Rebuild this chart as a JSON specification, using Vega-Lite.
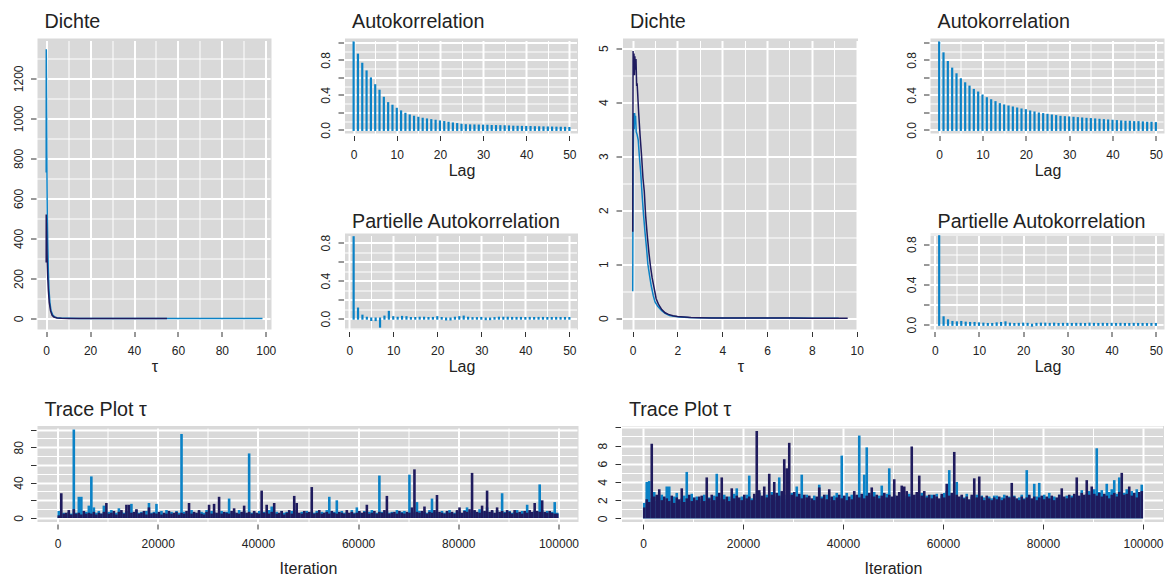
{
"$schema": "https://vega.github.io/schema/vega-lite/v6.json",
"background": "white",
"padding": {"left": 11.5, "top": 11.5, "right": 8, "bottom": 2},
"config": {
 "view": {"fill": "#D9D9D9", "stroke": null},
 "font": "Liberation Sans",
 "axis": {"domain": false, "gridColor": "#FFFFFF", "tickColor": "#333333", "tickWidth": 1, "labelColor": "#222222", "labelFontSize": 12, "labelFont": "Liberation Sans", "labelOverlap": false, "labelFlush": false, "titleFont": "Liberation Sans", "titleFontSize": 16, "titleFontWeight": "normal", "titleColor": "#222222"},
 "axisX": {"offset": 2, "tickSize": 5, "labelPadding": 9, "titlePadding": 2},
 "axisY": {"offset": 1.5, "tickSize": 5.5, "labelAngle": -90, "labelAlign": "center", "labelBaseline": "alphabetic", "labelPadding": 8.5},
 "title": {"anchor": "start", "frame": "group", "fontSize": 19.7, "fontWeight": "normal", "font": "Liberation Sans", "color": "#222222", "dx": 7, "offset": 6.5, "baseline": "alphabetic"}
},
"datasets": {
 "dens1": [
  {"tau":0.01,"d":730,"chain":"1"},{"tau":0.05,"d":1345,"chain":"1"},{"tau":0.1,"d":1250,"chain":"1"},{"tau":0.2,"d":1050,"chain":"1"},{"tau":0.3,"d":820,"chain":"1"},{"tau":0.4,"d":650,"chain":"1"},{"tau":0.5,"d":520,"chain":"1"},{"tau":0.7,"d":380,"chain":"1"},{"tau":1.0,"d":230,"chain":"1"},{"tau":1.3,"d":140,"chain":"1"},{"tau":1.7,"d":80,"chain":"1"},{"tau":2.2,"d":40,"chain":"1"},{"tau":3,"d":17,"chain":"1"},{"tau":4,"d":7,"chain":"1"},{"tau":5,"d":3.5,"chain":"1"},{"tau":7,"d":1.5,"chain":"1"},{"tau":10,"d":0.7,"chain":"1"},{"tau":15,"d":0.3,"chain":"1"},{"tau":20,"d":0.15,"chain":"1"},{"tau":30,"d":0.06,"chain":"1"},{"tau":40,"d":0.03,"chain":"1"},{"tau":50,"d":0.015,"chain":"1"},{"tau":60,"d":0.01,"chain":"1"},{"tau":70,"d":0.006,"chain":"1"},{"tau":80,"d":0.004,"chain":"1"},{"tau":90,"d":0.003,"chain":"1"},{"tau":98.5,"d":0.002,"chain":"1"},
  {"tau":0.01,"d":280,"chain":"2"},{"tau":0.03,"d":520,"chain":"2"},{"tau":0.05,"d":300,"chain":"2"},{"tau":0.07,"d":500,"chain":"2"},{"tau":0.09,"d":330,"chain":"2"},{"tau":0.11,"d":480,"chain":"2"},{"tau":0.2,"d":440,"chain":"2"},{"tau":0.35,"d":350,"chain":"2"},{"tau":0.5,"d":280,"chain":"2"},{"tau":0.7,"d":210,"chain":"2"},{"tau":1.0,"d":140,"chain":"2"},{"tau":1.4,"d":80,"chain":"2"},{"tau":2,"d":38,"chain":"2"},{"tau":2.7,"d":16,"chain":"2"},{"tau":3.5,"d":7,"chain":"2"},{"tau":5,"d":2.5,"chain":"2"},{"tau":7,"d":1,"chain":"2"},{"tau":10,"d":0.4,"chain":"2"},{"tau":15,"d":0.15,"chain":"2"},{"tau":20,"d":0.07,"chain":"2"},{"tau":30,"d":0.03,"chain":"2"},{"tau":40,"d":0.015,"chain":"2"},{"tau":55,"d":0.008,"chain":"2"}
 ],
 "dens2": [
  {"tau":0.005,"d":0.5,"chain":"1"},{"tau":0.02,"d":2.8,"chain":"1"},{"tau":0.05,"d":3.8,"chain":"1"},{"tau":0.07,"d":3.5,"chain":"1"},{"tau":0.09,"d":3.8,"chain":"1"},{"tau":0.11,"d":3.6,"chain":"1"},{"tau":0.13,"d":3.75,"chain":"1"},{"tau":0.16,"d":3.45,"chain":"1"},{"tau":0.2,"d":3.4,"chain":"1"},{"tau":0.25,"d":3.3,"chain":"1"},{"tau":0.3,"d":3.0,"chain":"1"},{"tau":0.36,"d":2.7,"chain":"1"},{"tau":0.42,"d":2.3,"chain":"1"},{"tau":0.48,"d":1.95,"chain":"1"},{"tau":0.55,"d":1.6,"chain":"1"},{"tau":0.62,"d":1.3,"chain":"1"},{"tau":0.68,"d":1.0,"chain":"1"},{"tau":0.76,"d":0.78,"chain":"1"},{"tau":0.83,"d":0.6,"chain":"1"},{"tau":0.92,"d":0.42,"chain":"1"},{"tau":1.0,"d":0.3,"chain":"1"},{"tau":1.12,"d":0.22,"chain":"1"},{"tau":1.3,"d":0.14,"chain":"1"},{"tau":1.45,"d":0.09,"chain":"1"},{"tau":1.65,"d":0.05,"chain":"1"},{"tau":1.85,"d":0.035,"chain":"1"},{"tau":2.1,"d":0.022,"chain":"1"},{"tau":2.5,"d":0.013,"chain":"1"},{"tau":3,"d":0.007,"chain":"1"},{"tau":4,"d":0.003,"chain":"1"},{"tau":5,"d":0.002,"chain":"1"},{"tau":6,"d":0.001,"chain":"1"},{"tau":7,"d":0.0008,"chain":"1"},{"tau":8,"d":0.0005,"chain":"1"},{"tau":9.2,"d":0.0003,"chain":"1"},
  {"tau":0.005,"d":1.6,"chain":"2"},{"tau":0.02,"d":4.95,"chain":"2"},{"tau":0.04,"d":4.6,"chain":"2"},{"tau":0.06,"d":4.9,"chain":"2"},{"tau":0.08,"d":4.5,"chain":"2"},{"tau":0.1,"d":4.85,"chain":"2"},{"tau":0.12,"d":4.6,"chain":"2"},{"tau":0.15,"d":4.8,"chain":"2"},{"tau":0.18,"d":4.3,"chain":"2"},{"tau":0.2,"d":4.35,"chain":"2"},{"tau":0.22,"d":4.2,"chain":"2"},{"tau":0.27,"d":3.8,"chain":"2"},{"tau":0.33,"d":3.4,"chain":"2"},{"tau":0.4,"d":3.0,"chain":"2"},{"tau":0.46,"d":2.6,"chain":"2"},{"tau":0.52,"d":2.35,"chain":"2"},{"tau":0.58,"d":1.9,"chain":"2"},{"tau":0.65,"d":1.55,"chain":"2"},{"tau":0.73,"d":1.2,"chain":"2"},{"tau":0.8,"d":0.95,"chain":"2"},{"tau":0.87,"d":0.75,"chain":"2"},{"tau":0.95,"d":0.58,"chain":"2"},{"tau":1.05,"d":0.36,"chain":"2"},{"tau":1.15,"d":0.26,"chain":"2"},{"tau":1.3,"d":0.16,"chain":"2"},{"tau":1.45,"d":0.1,"chain":"2"},{"tau":1.6,"d":0.07,"chain":"2"},{"tau":1.8,"d":0.045,"chain":"2"},{"tau":2.0,"d":0.03,"chain":"2"},{"tau":2.3,"d":0.02,"chain":"2"},{"tau":2.6,"d":0.012,"chain":"2"},{"tau":3,"d":0.007,"chain":"2"},{"tau":3.5,"d":0.004,"chain":"2"},{"tau":4,"d":0.003,"chain":"2"},{"tau":5,"d":0.002,"chain":"2"},{"tau":6,"d":0.001,"chain":"2"},{"tau":7,"d":0.001,"chain":"2"},{"tau":8,"d":0.0005,"chain":"2"},{"tau":9.6,"d":0.0003,"chain":"2"}
 ],
 "acf1": [
  {"lag":0,"r":1.0},{"lag":1,"r":0.86},{"lag":2,"r":0.756},{"lag":3,"r":0.668},{"lag":4,"r":0.588},{"lag":5,"r":0.51},{"lag":6,"r":0.447},{"lag":7,"r":0.366},{"lag":8,"r":0.305},{"lag":9,"r":0.275},{"lag":10,"r":0.24},{"lag":11,"r":0.21},{"lag":12,"r":0.183},{"lag":13,"r":0.164},{"lag":14,"r":0.149},{"lag":15,"r":0.137},{"lag":16,"r":0.126},{"lag":17,"r":0.118},{"lag":18,"r":0.11},{"lag":19,"r":0.103},{"lag":20,"r":0.095},{"lag":21,"r":0.088},{"lag":22,"r":0.08},{"lag":23,"r":0.072},{"lag":24,"r":0.065},{"lag":25,"r":0.057},{"lag":26,"r":0.052},{"lag":27,"r":0.05},{"lag":28,"r":0.049},{"lag":29,"r":0.048},{"lag":30,"r":0.047},{"lag":31,"r":0.046},{"lag":32,"r":0.043},{"lag":33,"r":0.042},{"lag":34,"r":0.041},{"lag":35,"r":0.04},{"lag":36,"r":0.038},{"lag":37,"r":0.035},{"lag":38,"r":0.034},{"lag":39,"r":0.033},{"lag":40,"r":0.032},{"lag":41,"r":0.031},{"lag":42,"r":0.029},{"lag":43,"r":0.028},{"lag":44,"r":0.027},{"lag":45,"r":0.026},{"lag":46,"r":0.025},{"lag":47,"r":0.024},{"lag":48,"r":0.023},{"lag":49,"r":0.022},{"lag":50,"r":0.02}
 ],
 "pacf1": [
  {"lag":1,"r":0.857},{"lag":2,"r":0.105},{"lag":3,"r":0.03},{"lag":4,"r":0.008},{"lag":5,"r":-0.014},{"lag":6,"r":-0.015},{"lag":7,"r":-0.084},{"lag":8,"r":0.02},{"lag":9,"r":0.07},{"lag":10,"r":0.014},{"lag":11,"r":0.008},{"lag":12,"r":0.017},{"lag":13,"r":0.014},{"lag":14,"r":0.005},{"lag":15,"r":0.005},{"lag":16,"r":0.008},{"lag":17,"r":0.008},{"lag":18,"r":0.005},{"lag":19,"r":0.006},{"lag":20,"r":0.014},{"lag":21,"r":0.005},{"lag":22,"r":-0.008},{"lag":23,"r":-0.008},{"lag":24,"r":0.008},{"lag":25,"r":0.014},{"lag":26,"r":0.02},{"lag":27,"r":0.008},{"lag":28,"r":0.004},{"lag":29,"r":0.004},{"lag":30,"r":0.006},{"lag":31,"r":-0.005},{"lag":32,"r":-0.005},{"lag":33,"r":0.004},{"lag":34,"r":0.008},{"lag":35,"r":0.008},{"lag":36,"r":0.008},{"lag":37,"r":0.006},{"lag":38,"r":0.006},{"lag":39,"r":0.006},{"lag":40,"r":0.005},{"lag":41,"r":0.006},{"lag":42,"r":0.005},{"lag":43,"r":0.006},{"lag":44,"r":0.006},{"lag":45,"r":0.005},{"lag":46,"r":0.005},{"lag":47,"r":0.006},{"lag":48,"r":0.005},{"lag":49,"r":0.005},{"lag":50,"r":0.005}
 ],
 "acf2": [
  {"lag":0,"r":1.0},{"lag":1,"r":0.875},{"lag":2,"r":0.776},{"lag":3,"r":0.7},{"lag":4,"r":0.635},{"lag":5,"r":0.578},{"lag":6,"r":0.532},{"lag":7,"r":0.494},{"lag":8,"r":0.456},{"lag":9,"r":0.426},{"lag":10,"r":0.392},{"lag":11,"r":0.361},{"lag":12,"r":0.338},{"lag":13,"r":0.316},{"lag":14,"r":0.293},{"lag":15,"r":0.278},{"lag":16,"r":0.266},{"lag":17,"r":0.255},{"lag":18,"r":0.243},{"lag":19,"r":0.232},{"lag":20,"r":0.224},{"lag":21,"r":0.209},{"lag":22,"r":0.198},{"lag":23,"r":0.186},{"lag":24,"r":0.179},{"lag":25,"r":0.171},{"lag":26,"r":0.163},{"lag":27,"r":0.156},{"lag":28,"r":0.148},{"lag":29,"r":0.144},{"lag":30,"r":0.141},{"lag":31,"r":0.137},{"lag":32,"r":0.133},{"lag":33,"r":0.129},{"lag":34,"r":0.125},{"lag":35,"r":0.122},{"lag":36,"r":0.118},{"lag":37,"r":0.114},{"lag":38,"r":0.11},{"lag":39,"r":0.106},{"lag":40,"r":0.103},{"lag":41,"r":0.099},{"lag":42,"r":0.095},{"lag":43,"r":0.091},{"lag":44,"r":0.091},{"lag":45,"r":0.087},{"lag":46,"r":0.087},{"lag":47,"r":0.084},{"lag":48,"r":0.08},{"lag":49,"r":0.08},{"lag":50,"r":0.076}
 ],
 "pacf2": [
  {"lag":1,"r":0.877},{"lag":2,"r":0.073},{"lag":3,"r":0.043},{"lag":4,"r":0.027},{"lag":5,"r":0.023},{"lag":6,"r":0.027},{"lag":7,"r":0.02},{"lag":8,"r":0.017},{"lag":9,"r":0.017},{"lag":10,"r":0.013},{"lag":11,"r":0.01},{"lag":12,"r":0.007},{"lag":13,"r":0.007},{"lag":14,"r":0.013},{"lag":15,"r":0.017},{"lag":16,"r":0.023},{"lag":17,"r":0.01},{"lag":18,"r":0.007},{"lag":19,"r":0.008},{"lag":20,"r":0.01},{"lag":21,"r":0.008},{"lag":22,"r":-0.007},{"lag":23,"r":0.008},{"lag":24,"r":0.01},{"lag":25,"r":0.01},{"lag":26,"r":0.008},{"lag":27,"r":0.01},{"lag":28,"r":0.007},{"lag":29,"r":0.008},{"lag":30,"r":0.008},{"lag":31,"r":0.007},{"lag":32,"r":0.008},{"lag":33,"r":0.008},{"lag":34,"r":0.007},{"lag":35,"r":0.01},{"lag":36,"r":0.008},{"lag":37,"r":0.007},{"lag":38,"r":0.008},{"lag":39,"r":0.007},{"lag":40,"r":0.008},{"lag":41,"r":0.007},{"lag":42,"r":0.008},{"lag":43,"r":0.007},{"lag":44,"r":0.007},{"lag":45,"r":0.008},{"lag":46,"r":0.007},{"lag":47,"r":0.007},{"lag":48,"r":0.006},{"lag":49,"r":0.007},{"lag":50,"r":0.007}
 ],
 "trace1": [
  {"it":250,"a":8,"b":3},{"it":750,"a":5,"b":28},{"it":1250,"a":6,"b":5},{"it":1750,"a":4,"b":6},{"it":2250,"a":7,"b":9},{"it":2750,"a":5,"b":4},{"it":3250,"a":100,"b":10},{"it":3750,"a":6,"b":5},{"it":4250,"a":24,"b":6},{"it":4750,"a":24,"b":4},
  {"it":5250,"a":5,"b":8},{"it":5750,"a":7,"b":5},{"it":6250,"a":14,"b":6},{"it":6750,"a":47,"b":5},{"it":7250,"a":12,"b":7},{"it":7750,"a":6,"b":4},{"it":8250,"a":8,"b":6},{"it":8750,"a":5,"b":5},{"it":9250,"a":14,"b":7},{"it":9750,"a":6,"b":17},
  {"it":10250,"a":7,"b":5},{"it":10750,"a":9,"b":6},{"it":11250,"a":5,"b":8},{"it":11750,"a":6,"b":4},{"it":12250,"a":11,"b":7},{"it":12750,"a":7,"b":9},{"it":13250,"a":6,"b":5},{"it":13750,"a":8,"b":15},{"it":14250,"a":7,"b":15},{"it":14750,"a":16,"b":6},
  {"it":15250,"a":5,"b":7},{"it":15750,"a":9,"b":10},{"it":16250,"a":6,"b":5},{"it":16750,"a":7,"b":6},{"it":17250,"a":5,"b":8},{"it":17750,"a":8,"b":4},{"it":18250,"a":17,"b":12},{"it":18750,"a":6,"b":5},{"it":19250,"a":7,"b":6},{"it":19750,"a":16,"b":5},
  {"it":20250,"a":6,"b":7},{"it":20750,"a":8,"b":4},{"it":21250,"a":5,"b":6},{"it":21750,"a":9,"b":5},{"it":22250,"a":6,"b":8},{"it":22750,"a":7,"b":5},{"it":23250,"a":5,"b":6},{"it":23750,"a":8,"b":7},{"it":24250,"a":6,"b":4},{"it":24750,"a":95,"b":6},
  {"it":25250,"a":7,"b":5},{"it":25750,"a":5,"b":8},{"it":26250,"a":6,"b":17},{"it":26750,"a":9,"b":5},{"it":27250,"a":6,"b":7},{"it":27750,"a":5,"b":6},{"it":28250,"a":8,"b":9},{"it":28750,"a":7,"b":5},{"it":29250,"a":6,"b":4},{"it":29750,"a":9,"b":7},
  {"it":30250,"a":6,"b":15},{"it":30750,"a":8,"b":5},{"it":31250,"a":7,"b":16},{"it":31750,"a":5,"b":6},{"it":32250,"a":6,"b":24},{"it":32750,"a":8,"b":5},{"it":33250,"a":5,"b":7},{"it":33750,"a":7,"b":6},{"it":34250,"a":22,"b":5},{"it":34750,"a":6,"b":8},
  {"it":35250,"a":7,"b":11},{"it":35750,"a":5,"b":6},{"it":36250,"a":9,"b":5},{"it":36750,"a":6,"b":7},{"it":37250,"a":8,"b":14},{"it":37750,"a":5,"b":6},{"it":38250,"a":73,"b":7},{"it":38750,"a":6,"b":5},{"it":39250,"a":7,"b":8},{"it":39750,"a":5,"b":6},
  {"it":40250,"a":8,"b":5},{"it":40750,"a":6,"b":31},{"it":41250,"a":7,"b":6},{"it":41750,"a":5,"b":15},{"it":42250,"a":9,"b":5},{"it":42750,"a":13,"b":7},{"it":43250,"a":6,"b":17},{"it":43750,"a":7,"b":5},{"it":44250,"a":5,"b":6},{"it":44750,"a":8,"b":8},
  {"it":45250,"a":6,"b":4},{"it":45750,"a":7,"b":6},{"it":46250,"a":5,"b":9},{"it":46750,"a":8,"b":5},{"it":47250,"a":6,"b":25},{"it":47750,"a":9,"b":17},{"it":48250,"a":5,"b":6},{"it":48750,"a":7,"b":5},{"it":49250,"a":6,"b":8},{"it":49750,"a":8,"b":6},
  {"it":50250,"a":5,"b":7},{"it":50750,"a":7,"b":35},{"it":51250,"a":6,"b":5},{"it":51750,"a":8,"b":6},{"it":52250,"a":5,"b":9},{"it":52750,"a":7,"b":5},{"it":53250,"a":6,"b":6},{"it":53750,"a":9,"b":7},{"it":54250,"a":24,"b":5},{"it":54750,"a":6,"b":8},
  {"it":55250,"a":7,"b":6},{"it":55750,"a":20,"b":5},{"it":56250,"a":5,"b":7},{"it":56750,"a":8,"b":6},{"it":57250,"a":6,"b":5},{"it":57750,"a":7,"b":9},{"it":58250,"a":5,"b":6},{"it":58750,"a":9,"b":7},{"it":59250,"a":6,"b":5},{"it":59750,"a":12,"b":6},
  {"it":60250,"a":7,"b":8},{"it":60750,"a":5,"b":6},{"it":61250,"a":8,"b":7},{"it":61750,"a":6,"b":15},{"it":62250,"a":7,"b":5},{"it":62750,"a":9,"b":6},{"it":63250,"a":5,"b":8},{"it":63750,"a":6,"b":5},{"it":64250,"a":48,"b":7},{"it":64750,"a":7,"b":6},
  {"it":65250,"a":5,"b":9},{"it":65750,"a":8,"b":25},{"it":66250,"a":6,"b":5},{"it":66750,"a":7,"b":6},{"it":67250,"a":5,"b":7},{"it":67750,"a":9,"b":5},{"it":68250,"a":6,"b":8},{"it":68750,"a":7,"b":6},{"it":69250,"a":8,"b":5},{"it":69750,"a":5,"b":7},
  {"it":70250,"a":49,"b":6},{"it":70750,"a":7,"b":12},{"it":71250,"a":6,"b":55},{"it":71750,"a":18,"b":7},{"it":72250,"a":8,"b":6},{"it":72750,"a":5,"b":8},{"it":73250,"a":7,"b":13},{"it":73750,"a":6,"b":5},{"it":74250,"a":9,"b":7},{"it":74750,"a":22,"b":6},
  {"it":75250,"a":7,"b":9},{"it":75750,"a":6,"b":26},{"it":76250,"a":5,"b":7},{"it":76750,"a":8,"b":6},{"it":77250,"a":6,"b":5},{"it":77750,"a":7,"b":8},{"it":78250,"a":9,"b":6},{"it":78750,"a":5,"b":7},{"it":79250,"a":6,"b":5},{"it":79750,"a":8,"b":9},
  {"it":80250,"a":7,"b":12},{"it":80750,"a":5,"b":6},{"it":81250,"a":9,"b":8},{"it":81750,"a":12,"b":7},{"it":82250,"a":6,"b":10},{"it":82750,"a":7,"b":51},{"it":83250,"a":8,"b":9},{"it":83750,"a":5,"b":7},{"it":84250,"a":10,"b":6},{"it":84750,"a":6,"b":14},
  {"it":85250,"a":7,"b":8},{"it":85750,"a":12,"b":31},{"it":86250,"a":6,"b":7},{"it":86750,"a":8,"b":9},{"it":87250,"a":5,"b":6},{"it":87750,"a":9,"b":12},{"it":88250,"a":6,"b":7},{"it":88750,"a":28,"b":8},{"it":89250,"a":7,"b":6},{"it":89750,"a":5,"b":9},
  {"it":90250,"a":8,"b":7},{"it":90750,"a":6,"b":5},{"it":91250,"a":7,"b":9},{"it":91750,"a":9,"b":6},{"it":92250,"a":5,"b":7},{"it":92750,"a":8,"b":5},{"it":93250,"a":6,"b":8},{"it":93750,"a":15,"b":6},{"it":94250,"a":7,"b":9},{"it":94750,"a":5,"b":7},
  {"it":95250,"a":8,"b":17},{"it":95750,"a":6,"b":8},{"it":96250,"a":38,"b":7},{"it":96750,"a":9,"b":20},{"it":97250,"a":6,"b":7},{"it":97750,"a":8,"b":6},{"it":98250,"a":5,"b":8},{"it":98750,"a":7,"b":6},{"it":99250,"a":18,"b":5},{"it":99750,"a":6,"b":5}
 ],
 "trace2": [
  {"it":250,"a":1.7,"b":1.2},{"it":750,"a":4.0,"b":2.1},{"it":1250,"a":4.1,"b":1.8},{"it":1750,"a":2.2,"b":8.2},{"it":2250,"a":2.9,"b":2.4},{"it":2750,"a":1.9,"b":2.6},{"it":3250,"a":2.3,"b":3.2},{"it":3750,"a":2.6,"b":2.0},{"it":4250,"a":1.8,"b":2.4},{"it":4750,"a":3.5,"b":2.2},
  {"it":5250,"a":3.5,"b":1.9},{"it":5750,"a":2.0,"b":2.5},{"it":6250,"a":2.4,"b":1.7},{"it":6750,"a":2.8,"b":2.3},{"it":7250,"a":1.9,"b":2.1},{"it":7750,"a":2.2,"b":3.3},{"it":8250,"a":2.5,"b":1.8},{"it":8750,"a":5.1,"b":2.2},{"it":9250,"a":2.0,"b":2.6},{"it":9750,"a":2.7,"b":1.9},
  {"it":10250,"a":1.8,"b":2.3},{"it":10750,"a":2.4,"b":2.0},{"it":11250,"a":2.1,"b":2.4},{"it":11750,"a":1.7,"b":2.5},{"it":12250,"a":2.6,"b":1.9},{"it":12750,"a":2.0,"b":4.5},{"it":13250,"a":2.3,"b":2.2},{"it":13750,"a":1.9,"b":2.6},{"it":14250,"a":2.5,"b":2.0},{"it":14750,"a":4.9,"b":2.4},
  {"it":15250,"a":2.2,"b":2.8},{"it":15750,"a":2.0,"b":4.5},{"it":16250,"a":2.6,"b":2.1},{"it":16750,"a":1.8,"b":2.4},{"it":17250,"a":2.4,"b":1.9},{"it":17750,"a":2.1,"b":3.3},{"it":18250,"a":2.7,"b":2.2},{"it":18750,"a":3.3,"b":2.5},{"it":19250,"a":2.0,"b":2.3},{"it":19750,"a":2.4,"b":2.0},
  {"it":20250,"a":1.9,"b":2.6},{"it":20750,"a":2.6,"b":2.2},{"it":21250,"a":4.7,"b":2.4},{"it":21750,"a":2.2,"b":2.0},{"it":22250,"a":2.5,"b":2.7},{"it":22750,"a":2.0,"b":9.6},{"it":23250,"a":2.8,"b":3.1},{"it":23750,"a":2.3,"b":2.5},{"it":24250,"a":2.1,"b":3.5},{"it":24750,"a":2.6,"b":2.3},
  {"it":25250,"a":2.2,"b":4.9},{"it":25750,"a":2.9,"b":2.6},{"it":26250,"a":2.4,"b":4.0},{"it":26750,"a":2.0,"b":2.8},{"it":27250,"a":4.5,"b":2.5},{"it":27750,"a":2.3,"b":3.0},{"it":28250,"a":2.6,"b":6.5},{"it":28750,"a":2.1,"b":5.5},{"it":29250,"a":2.5,"b":8.3},{"it":29750,"a":2.8,"b":2.6},
  {"it":30250,"a":2.2,"b":2.9},{"it":30750,"a":3.5,"b":2.4},{"it":31250,"a":2.4,"b":2.7},{"it":31750,"a":4.8,"b":2.2},{"it":32250,"a":2.0,"b":2.6},{"it":32750,"a":2.6,"b":2.3},{"it":33250,"a":2.3,"b":2.5},{"it":33750,"a":1.9,"b":2.2},{"it":34250,"a":2.5,"b":2.0},{"it":34750,"a":2.2,"b":2.4},
  {"it":35250,"a":3.7,"b":3.4},{"it":35750,"a":2.4,"b":2.2},{"it":36250,"a":2.0,"b":2.6},{"it":36750,"a":2.6,"b":2.1},{"it":37250,"a":2.3,"b":3.2},{"it":37750,"a":1.9,"b":2.4},{"it":38250,"a":2.5,"b":2.0},{"it":38750,"a":2.8,"b":2.3},{"it":39250,"a":2.1,"b":2.6},{"it":39750,"a":6.9,"b":2.2},
  {"it":40250,"a":2.4,"b":2.5},{"it":40750,"a":2.8,"b":2.0},{"it":41250,"a":2.0,"b":2.4},{"it":41750,"a":2.6,"b":2.1},{"it":42250,"a":2.2,"b":3.0},{"it":42750,"a":2.5,"b":2.6},{"it":43250,"a":9.1,"b":2.3},{"it":43750,"a":2.4,"b":2.7},{"it":44250,"a":4.8,"b":2.2},{"it":44750,"a":7.8,"b":2.5},
  {"it":45250,"a":2.6,"b":2.8},{"it":45750,"a":2.2,"b":3.4},{"it":46250,"a":2.9,"b":2.4},{"it":46750,"a":2.1,"b":2.6},{"it":47250,"a":2.5,"b":2.2},{"it":47750,"a":3.6,"b":2.5},{"it":48250,"a":2.3,"b":2.8},{"it":48750,"a":2.7,"b":2.3},{"it":49250,"a":5.5,"b":2.6},{"it":49750,"a":2.2,"b":2.4},
  {"it":50250,"a":2.6,"b":4.3},{"it":50750,"a":2.3,"b":2.5},{"it":51250,"a":2.8,"b":2.9},{"it":51750,"a":2.0,"b":3.6},{"it":52250,"a":2.5,"b":3.5},{"it":52750,"a":2.2,"b":3.0},{"it":53250,"a":2.7,"b":2.4},{"it":53750,"a":2.4,"b":7.9},{"it":54250,"a":2.1,"b":2.6},{"it":54750,"a":2.6,"b":2.9},
  {"it":55250,"a":2.3,"b":4.7},{"it":55750,"a":2.8,"b":2.5},{"it":56250,"a":2.2,"b":3.0},{"it":56750,"a":2.5,"b":2.3},{"it":57250,"a":2.0,"b":2.6},{"it":57750,"a":2.6,"b":2.2},{"it":58250,"a":2.3,"b":2.6},{"it":58750,"a":2.7,"b":2.4},{"it":59250,"a":2.1,"b":2.2},{"it":59750,"a":2.5,"b":2.7},
  {"it":60250,"a":2.8,"b":2.3},{"it":60750,"a":3.0,"b":3.8},{"it":61250,"a":5.3,"b":2.5},{"it":61750,"a":2.6,"b":2.8},{"it":62250,"a":2.4,"b":7.3},{"it":62750,"a":4.0,"b":2.6},{"it":63250,"a":2.2,"b":2.4},{"it":63750,"a":2.5,"b":2.6},{"it":64250,"a":2.3,"b":2.2},{"it":64750,"a":2.7,"b":2.4},
  {"it":65250,"a":2.0,"b":2.1},{"it":65750,"a":2.4,"b":2.6},{"it":66250,"a":2.2,"b":4.4},{"it":66750,"a":2.6,"b":2.3},{"it":67250,"a":2.1,"b":4.6},{"it":67750,"a":2.5,"b":2.4},{"it":68250,"a":2.3,"b":2.0},{"it":68750,"a":2.0,"b":2.5},{"it":69250,"a":2.4,"b":2.2},{"it":69750,"a":2.2,"b":2.0},
  {"it":70250,"a":2.5,"b":2.3},{"it":70750,"a":2.5,"b":2.1},{"it":71250,"a":2.1,"b":2.4},{"it":71750,"a":2.3,"b":2.0},{"it":72250,"a":2.6,"b":2.2},{"it":72750,"a":2.0,"b":2.5},{"it":73250,"a":2.4,"b":2.3},{"it":73750,"a":2.2,"b":3.9},{"it":74250,"a":2.5,"b":2.4},{"it":74750,"a":2.1,"b":2.2},
  {"it":75250,"a":2.3,"b":2.0},{"it":75750,"a":2.6,"b":2.4},{"it":76250,"a":2.2,"b":2.1},{"it":76750,"a":5.3,"b":2.3},{"it":77250,"a":2.5,"b":2.6},{"it":77750,"a":2.1,"b":2.2},{"it":78250,"a":3.8,"b":2.4},{"it":78750,"a":2.4,"b":2.0},{"it":79250,"a":3.9,"b":2.3},{"it":79750,"a":2.2,"b":2.5},
  {"it":80250,"a":2.6,"b":2.1},{"it":80750,"a":2.3,"b":2.4},{"it":81250,"a":2.8,"b":2.2},{"it":81750,"a":2.1,"b":2.5},{"it":82250,"a":2.4,"b":2.0},{"it":82750,"a":2.2,"b":2.3},{"it":83250,"a":2.6,"b":2.6},{"it":83750,"a":2.3,"b":3.3},{"it":84250,"a":2.1,"b":2.4},{"it":84750,"a":2.5,"b":2.2},
  {"it":85250,"a":2.2,"b":2.6},{"it":85750,"a":2.5,"b":2.3},{"it":86250,"a":2.3,"b":2.7},{"it":86750,"a":2.6,"b":4.5},{"it":87250,"a":2.2,"b":2.5},{"it":87750,"a":3.1,"b":2.8},{"it":88250,"a":2.4,"b":2.6},{"it":88750,"a":2.7,"b":4.2},{"it":89250,"a":3.0,"b":2.6},{"it":89750,"a":2.5,"b":3.5},
  {"it":90250,"a":3.2,"b":2.7},{"it":90750,"a":7.7,"b":2.5},{"it":91250,"a":2.9,"b":2.8},{"it":91750,"a":3.1,"b":2.4},{"it":92250,"a":2.6,"b":2.7},{"it":92750,"a":3.8,"b":2.5},{"it":93250,"a":2.9,"b":2.2},{"it":93750,"a":3.2,"b":2.6},{"it":94250,"a":4.2,"b":2.8},{"it":94750,"a":2.7,"b":2.4},
  {"it":95250,"a":4.5,"b":2.9},{"it":95750,"a":3.0,"b":5.0},{"it":96250,"a":2.8,"b":2.6},{"it":96750,"a":3.2,"b":2.7},{"it":97250,"a":2.6,"b":3.5},{"it":97750,"a":3.0,"b":2.5},{"it":98250,"a":2.4,"b":2.8},{"it":98750,"a":3.2,"b":2.3},{"it":99250,"a":2.6,"b":2.9},{"it":99750,"a":3.7,"b":3.0}
 ]
},
"spacing": 24.5,
"vconcat": [
 {"spacing": 18.5, "hconcat": [
  {"spacing": 42.5, "hconcat": [
   {"width": 234, "height": 291, "title": {"text": "Dichte"}, "data": {"name": "dens1"},
    "mark": {"type": "line", "strokeWidth": 1.5},
    "encoding": {
     "x": {"field": "tau", "type": "quantitative", "scale": {"domain": [-3.95, 102.6], "nice": false, "zero": false},
       "axis": {"values": [0,10,20,30,40,50,60,70,80,90,100], "title": "τ", "format": "d",
        "gridWidth": {"condition": {"test": "datum.value % 20 === 0", "value": 2}, "value": 1},
        "tickOpacity": {"condition": {"test": "datum.value % 20 === 0", "value": 1}, "value": 0},
        "labelExpr": "datum.value % 20 === 0 ? datum.label : ''"}},
     "y": {"field": "d", "type": "quantitative", "scale": {"domain": [-55, 1399], "nice": false, "zero": false},
       "axis": {"values": [0,100,200,300,400,500,600,700,800,900,1000,1100,1200,1300], "title": null, "format": "d",
        "gridWidth": {"condition": {"test": "datum.value % 200 === 0", "value": 2}, "value": 1},
        "tickOpacity": {"condition": {"test": "datum.value % 200 === 0", "value": 1}, "value": 0},
        "labelExpr": "datum.value % 200 === 0 ? datum.label : ''"}},
     "color": {"field": "chain", "type": "nominal", "scale": {"domain": ["1", "2"], "range": ["#0B82C6", "#1F1B5E"]}, "legend": null}
    }},
   {"spacing": 33, "vconcat": [
    {"width": 233, "height": 95, "title": {"text": "Autokorrelation"}, "data": {"name": "acf1"},
     "mark": {"type": "rule", "color": "#0B82C6", "strokeWidth": 2.2, "strokeCap": "square"},
     "encoding": {
      "x": {"field": "lag", "type": "quantitative", "scale": {"domain": [-2, 52], "nice": false, "zero": false},
        "axis": {"values": [0,5,10,15,20,25,30,35,40,45,50], "title": "Lag", "format": "d",
         "gridWidth": {"condition": {"test": "datum.value % 10 === 0", "value": 2}, "value": 1},
         "tickOpacity": {"condition": {"test": "datum.value % 10 === 0", "value": 1}, "value": 0},
         "labelExpr": "datum.value % 10 === 0 ? datum.label : ''"}},
      "y": {"field": "r", "type": "quantitative", "scale": {"domain": [-0.042, 1.046], "nice": false, "zero": false},
        "axis": {"values": [0,0.1,0.2,0.3,0.4,0.5,0.6,0.7,0.8,0.9,1], "title": null,
         "gridWidth": {"condition": {"test": "round(datum.value*10) % 2 === 0", "value": 2}, "value": 1},
         "tickOpacity": {"condition": {"test": "round(datum.value*10) % 2 === 0", "value": 1}, "value": 0},
         "labelExpr": "round(datum.value*10) % 4 === 0 ? format(datum.value, '.1f') : ''"}},
      "y2": {"datum": 0}
     }},
    {"width": 233, "height": 96, "title": {"text": "Partielle Autokorrelation", "offset": 2}, "data": {"name": "pacf1"},
     "mark": {"type": "rule", "color": "#0B82C6", "strokeWidth": 2.2, "strokeCap": "square"},
     "encoding": {
      "x": {"field": "lag", "type": "quantitative", "scale": {"domain": [-0.96, 51.96], "nice": false, "zero": false},
        "axis": {"values": [0,5,10,15,20,25,30,35,40,45,50], "title": "Lag", "format": "d",
         "gridWidth": {"condition": {"test": "datum.value % 10 === 0", "value": 2}, "value": 1},
         "tickOpacity": {"condition": {"test": "datum.value % 10 === 0", "value": 1}, "value": 0},
         "labelExpr": "datum.value % 10 === 0 ? datum.label : ''"}},
      "y": {"field": "r", "type": "quantitative", "scale": {"domain": [-0.115, 0.897], "nice": false, "zero": false},
        "axis": {"values": [-0.1,0,0.1,0.2,0.3,0.4,0.5,0.6,0.7,0.8], "title": null,
         "gridWidth": {"condition": {"test": "round(datum.value*10) % 2 === 0", "value": 2}, "value": 1},
         "tickOpacity": {"condition": {"test": "round(datum.value*10) % 2 === 0", "value": 1}, "value": 0},
         "labelExpr": "round(datum.value*10) % 4 === 0 ? format(datum.value, '.1f') : ''"}},
      "y2": {"datum": 0}
     }}
   ]}
  ]},
  {"spacing": 40.5, "hconcat": [
   {"width": 235, "height": 291, "title": {"text": "Dichte"}, "data": {"name": "dens2"},
    "mark": {"type": "line", "strokeWidth": 1.5},
    "encoding": {
     "x": {"field": "tau", "type": "quantitative", "scale": {"domain": [-0.43, 10.06], "nice": false, "zero": false},
       "axis": {"values": [0,1,2,3,4,5,6,7,8,9,10], "title": "τ", "format": "d",
        "gridWidth": {"condition": {"test": "datum.value % 2 === 0", "value": 2}, "value": 1},
        "tickOpacity": {"condition": {"test": "datum.value % 2 === 0", "value": 1}, "value": 0},
        "labelExpr": "datum.value % 2 === 0 ? datum.label : ''"}},
     "y": {"field": "d", "type": "quantitative", "scale": {"domain": [-0.21, 5.18], "nice": false, "zero": false},
       "axis": {"values": [0,0.5,1,1.5,2,2.5,3,3.5,4,4.5,5], "title": null,
        "gridWidth": {"condition": {"test": "datum.value % 1 === 0", "value": 2}, "value": 1},
        "tickOpacity": {"condition": {"test": "datum.value % 1 === 0", "value": 1}, "value": 0},
        "labelExpr": "datum.value % 1 === 0 ? format(datum.value, 'd') : ''"}},
     "color": {"field": "chain", "type": "nominal", "scale": {"domain": ["1", "2"], "range": ["#0B82C6", "#1F1B5E"]}, "legend": null}
    }},
   {"spacing": 33, "vconcat": [
    {"width": 234, "height": 95, "title": {"text": "Autokorrelation"}, "data": {"name": "acf2"},
     "mark": {"type": "rule", "color": "#0B82C6", "strokeWidth": 2.2, "strokeCap": "square"},
     "encoding": {
      "x": {"field": "lag", "type": "quantitative", "scale": {"domain": [-2, 52], "nice": false, "zero": false},
        "axis": {"values": [0,5,10,15,20,25,30,35,40,45,50], "title": "Lag", "format": "d",
         "gridWidth": {"condition": {"test": "datum.value % 10 === 0", "value": 2}, "value": 1},
         "tickOpacity": {"condition": {"test": "datum.value % 10 === 0", "value": 1}, "value": 0},
         "labelExpr": "datum.value % 10 === 0 ? datum.label : ''"}},
      "y": {"field": "r", "type": "quantitative", "scale": {"domain": [-0.042, 1.046], "nice": false, "zero": false},
        "axis": {"values": [0,0.1,0.2,0.3,0.4,0.5,0.6,0.7,0.8,0.9,1], "title": null,
         "gridWidth": {"condition": {"test": "round(datum.value*10) % 2 === 0", "value": 2}, "value": 1},
         "tickOpacity": {"condition": {"test": "round(datum.value*10) % 2 === 0", "value": 1}, "value": 0},
         "labelExpr": "round(datum.value*10) % 4 === 0 ? format(datum.value, '.1f') : ''"}},
      "y2": {"datum": 0}
     }},
    {"width": 234, "height": 96, "title": {"text": "Partielle Autokorrelation", "offset": 2}, "data": {"name": "pacf2"},
     "mark": {"type": "rule", "color": "#0B82C6", "strokeWidth": 2.2, "strokeCap": "square"},
     "encoding": {
      "x": {"field": "lag", "type": "quantitative", "scale": {"domain": [-0.96, 51.96], "nice": false, "zero": false},
        "axis": {"values": [0,5,10,15,20,25,30,35,40,45,50], "title": "Lag", "format": "d",
         "gridWidth": {"condition": {"test": "datum.value % 10 === 0", "value": 2}, "value": 1},
         "tickOpacity": {"condition": {"test": "datum.value % 10 === 0", "value": 1}, "value": 0},
         "labelExpr": "datum.value % 10 === 0 ? datum.label : ''"}},
      "y": {"field": "r", "type": "quantitative", "scale": {"domain": [-0.047, 0.905], "nice": false, "zero": false},
        "axis": {"values": [0,0.1,0.2,0.3,0.4,0.5,0.6,0.7,0.8,0.9], "title": null,
         "gridWidth": {"condition": {"test": "round(datum.value*10) % 2 === 0", "value": 2}, "value": 1},
         "tickOpacity": {"condition": {"test": "round(datum.value*10) % 2 === 0 && datum.value < 0.85", "value": 1}, "value": 0},
         "labelExpr": "round(datum.value*10) % 4 === 0 ? format(datum.value, '.1f') : ''"}},
      "y2": {"datum": 0}
     }}
   ]}
  ]}
 ]},
 {"spacing": 17.5, "hconcat": [
  {"width": 541, "height": 96, "title": {"text": "Trace Plot τ"}, "data": {"name": "trace1"},
   "encoding": {
    "x": {"field": "it", "type": "quantitative", "scale": {"domain": [-4000, 104000], "nice": false, "zero": false},
      "axis": {"values": [0,10000,20000,30000,40000,50000,60000,70000,80000,90000,100000], "title": "Iteration", "format": "d", "titlePadding": 11,
       "gridWidth": {"condition": {"test": "datum.value % 20000 === 0", "value": 2}, "value": 1},
       "tickOpacity": {"condition": {"test": "datum.value % 20000 === 0", "value": 1}, "value": 0},
       "labelExpr": "datum.value % 20000 === 0 ? datum.label : ''"}},
    "y2": {"datum": 0}
   },
   "layer": [
    {"mark": {"type": "rule", "color": "#0B82C6", "strokeWidth": 2.6},
     "encoding": {"y": {"field": "a", "type": "quantitative", "scale": {"domain": [-4.5, 104], "nice": false, "zero": false},
       "axis": {"values": [0,10,20,30,40,50,60,70,80,90,100], "title": null, "format": "d",
        "gridWidth": {"condition": {"test": "datum.value % 20 === 0", "value": 2}, "value": 1},
        "tickOpacity": {"condition": {"test": "datum.value % 20 === 0", "value": 1}, "value": 0},
        "labelExpr": "datum.value % 40 === 0 ? datum.label : ''"}}}},
    {"mark": {"type": "rule", "color": "#1F1B5E", "strokeWidth": 2.6},
     "encoding": {"y": {"field": "b", "type": "quantitative", "scale": {"domain": [-4.5, 104], "nice": false, "zero": false},
       "axis": {"values": [0,10,20,30,40,50,60,70,80,90,100], "title": null, "format": "d",
        "gridWidth": {"condition": {"test": "datum.value % 20 === 0", "value": 2}, "value": 1},
        "tickOpacity": {"condition": {"test": "datum.value % 20 === 0", "value": 1}, "value": 0},
        "labelExpr": "datum.value % 40 === 0 ? datum.label : ''"}}}}
   ]},
  {"width": 542, "height": 96, "title": {"text": "Trace Plot τ"}, "data": {"name": "trace2"},
   "encoding": {
    "x": {"field": "it", "type": "quantitative", "scale": {"domain": [-4200, 104200], "nice": false, "zero": false},
      "axis": {"values": [0,10000,20000,30000,40000,50000,60000,70000,80000,90000,100000], "title": "Iteration", "format": "d", "titlePadding": 11,
       "gridWidth": {"condition": {"test": "datum.value % 20000 === 0", "value": 2}, "value": 1},
       "tickOpacity": {"condition": {"test": "datum.value % 20000 === 0", "value": 1}, "value": 0},
       "labelExpr": "datum.value % 20000 === 0 ? datum.label : ''"}},
    "y2": {"datum": 0}
   },
   "layer": [
    {"mark": {"type": "rule", "color": "#0B82C6", "strokeWidth": 2.6},
     "encoding": {"y": {"field": "a", "type": "quantitative", "scale": {"domain": [-0.4, 10.15], "nice": false, "zero": false},
       "axis": {"values": [0,1,2,3,4,5,6,7,8,9,10], "title": null, "format": "d",
        "gridWidth": {"condition": {"test": "datum.value % 2 === 0", "value": 2}, "value": 1},
        "tickOpacity": {"condition": {"test": "datum.value % 2 === 0", "value": 1}, "value": 0},
        "labelExpr": "datum.value % 2 === 0 && datum.value < 10 ? datum.label : ''"}}}},
    {"mark": {"type": "rule", "color": "#1F1B5E", "strokeWidth": 2.6},
     "encoding": {"y": {"field": "b", "type": "quantitative", "scale": {"domain": [-0.4, 10.15], "nice": false, "zero": false},
       "axis": {"values": [0,1,2,3,4,5,6,7,8,9,10], "title": null, "format": "d",
        "gridWidth": {"condition": {"test": "datum.value % 2 === 0", "value": 2}, "value": 1},
        "tickOpacity": {"condition": {"test": "datum.value % 2 === 0", "value": 1}, "value": 0},
        "labelExpr": "datum.value % 2 === 0 && datum.value < 10 ? datum.label : ''"}}}}
   ]}
 ]}
]
}
